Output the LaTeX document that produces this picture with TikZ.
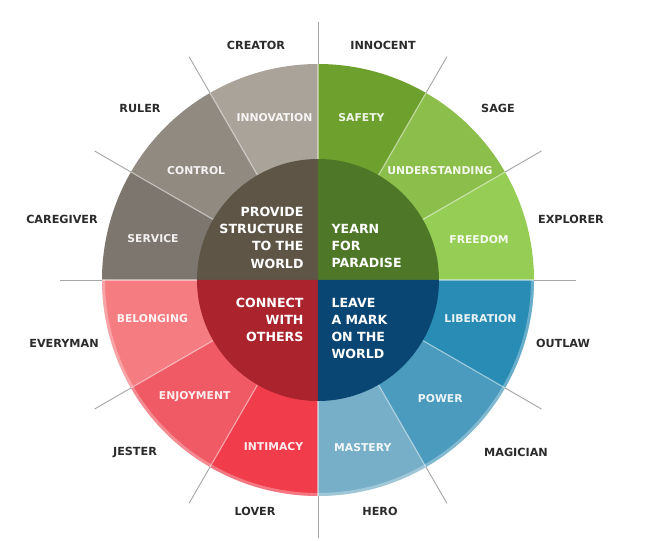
\documentclass[tikz,border=0pt]{standalone}
\usepackage{fontspec}
\setmainfont{DejaVu Sans}
\usepackage{xcolor}
\definecolor{InnoGrey}{HTML}{AAA39A}
\definecolor{CtrlGrey}{HTML}{918A81}
\definecolor{ServGrey}{HTML}{7C766E}
\definecolor{CoreGrey}{HTML}{5E5546}
\definecolor{SafeGreen}{HTML}{6EA02D}
\definecolor{UndGreen}{HTML}{8CBE4B}
\definecolor{FreeGreen}{HTML}{96CD55}
\definecolor{CoreGreen}{HTML}{4E7828}
\definecolor{BelRed}{HTML}{F57D82}
\definecolor{EnjRed}{HTML}{F05A64}
\definecolor{IntRed}{HTML}{F03C4B}
\definecolor{CoreRed}{HTML}{AA232D}
\definecolor{LibBlue}{HTML}{288CB4}
\definecolor{PowBlue}{HTML}{4B9BBE}
\definecolor{MastBlue}{HTML}{78AFC8}
\definecolor{CoreBlue}{HTML}{0A4673}
\definecolor{LabelDark}{HTML}{2B2B2B}
\usepackage{tikz}

\begin{document}
\begin{tikzpicture}[x=1pt,y=1pt,
  ring/.style={font=\fontsize{10.8}{12}\selectfont\bfseries,text=white,text opacity=.9},
  arch/.style={font=\fontsize{11.2}{13}\selectfont\bfseries,text=LabelDark},
  core/.style={font=\fontsize{12.6}{17.3}\selectfont\bfseries,text=white},
  spokein/.style={white,opacity=.45,line width=1.2pt},
  spokeout/.style={gray!70,line width=.9pt}
]
  \useasboundingbox (-318,-261) rectangle (336,280);

  % outer ring
  \fill[InnoGrey] (0,0) -- (90:216) arc[start angle=90,end angle=120,radius=216] -- cycle;
  \fill[CtrlGrey] (0,0) -- (120:216) arc[start angle=120,end angle=150,radius=216] -- cycle;
  \fill[ServGrey] (0,0) -- (150:216) arc[start angle=150,end angle=180,radius=216] -- cycle;
  \fill[SafeGreen] (0,0) -- (60:216) arc[start angle=60,end angle=90,radius=216] -- cycle;
  \fill[UndGreen] (0,0) -- (30:216) arc[start angle=30,end angle=60,radius=216] -- cycle;
  \fill[FreeGreen] (0,0) -- (0:216) arc[start angle=0,end angle=30,radius=216] -- cycle;
  \fill[BelRed] (0,0) -- (180:216) arc[start angle=180,end angle=210,radius=216] -- cycle;
  \fill[EnjRed] (0,0) -- (210:216) arc[start angle=210,end angle=240,radius=216] -- cycle;
  \fill[IntRed] (0,0) -- (240:216) arc[start angle=240,end angle=270,radius=216] -- cycle;
  \fill[MastBlue] (0,0) -- (270:216) arc[start angle=270,end angle=300,radius=216] -- cycle;
  \fill[PowBlue] (0,0) -- (300:216) arc[start angle=300,end angle=330,radius=216] -- cycle;
  \fill[LibBlue] (0,0) -- (330:216) arc[start angle=330,end angle=360,radius=216] -- cycle;
  \draw[white,opacity=.3,line width=3pt] (180:214.5) arc[start angle=180,end angle=360,radius=214.5];

  % spokes
  \draw[spokein] (0:121) -- (0:216);     \draw[spokeout] (0:216) -- (0:258);
  \draw[spokein] (30:121) -- (30:216);   \draw[spokeout] (30:216) -- (30:258);
  \draw[spokein] (60:121) -- (60:216);   \draw[spokeout] (60:216) -- (60:258);
  \draw[spokein] (90:121) -- (90:216);   \draw[spokeout] (90:216) -- (90:258);
  \draw[spokein] (120:121) -- (120:216); \draw[spokeout] (120:216) -- (120:258);
  \draw[spokein] (150:121) -- (150:216); \draw[spokeout] (150:216) -- (150:258);
  \draw[spokein] (180:121) -- (180:216); \draw[spokeout] (180:216) -- (180:258);
  \draw[spokein] (210:121) -- (210:216); \draw[spokeout] (210:216) -- (210:258);
  \draw[spokein] (240:121) -- (240:216); \draw[spokeout] (240:216) -- (240:258);
  \draw[spokein] (270:121) -- (270:216); \draw[spokeout] (270:216) -- (270:258);
  \draw[spokein] (300:121) -- (300:216); \draw[spokeout] (300:216) -- (300:258);
  \draw[spokein] (330:121) -- (330:216); \draw[spokeout] (330:216) -- (330:258);

  % inner circle
  \fill[CoreGrey] (0,0) -- (90:121) arc[start angle=90,end angle=180,radius=121] -- cycle;
  \fill[CoreGreen] (0,0) -- (0:121) arc[start angle=0,end angle=90,radius=121] -- cycle;
  \fill[CoreRed] (0,0) -- (180:121) arc[start angle=180,end angle=270,radius=121] -- cycle;
  \fill[CoreBlue] (0,0) -- (270:121) arc[start angle=270,end angle=360,radius=121] -- cycle;

  \node[core,align=right,anchor=east] (structure) at (-11,42.5) {PROVIDE\\STRUCTURE\\TO THE\\WORLD};
  \node[core,align=left,anchor=west] (paradise) at (10,34) {YEARN\\FOR\\PARADISE};
  \node[core,align=right,anchor=east] (others) at (-11,-40) {CONNECT\\WITH\\OTHERS};
  \node[core,align=left,anchor=west] (mark) at (10,-48.5) {LEAVE\\A MARK\\ON THE\\WORLD};

  % ring labels
  \node[ring] (innovation) at (105:168) {INNOVATION};
  \node[ring] (control) at (138:164) {CONTROL};
  \node[ring] (service) at (166:170) {SERVICE};
  \node[ring] (safety) at (75:168) {SAFETY};
  \node[ring] (understanding) at (42:164) {UNDERSTANDING};
  \node[ring] (freedom) at (14:166) {FREEDOM};
  \node[ring] (belonging) at (193:170) {BELONGING};
  \node[ring] (enjoyment) at (223.5:170) {ENJOYMENT};
  \node[ring] (intimacy) at (255:172) {INTIMACY};
  \node[ring] (liberation) at (-13.5:167) {LIBERATION};
  \node[ring] (power) at (-44:170) {POWER};
  \node[ring] (mastery) at (-75:173) {MASTERY};

  % archetypes
  \node[arch] (creator) at (-62,235) {CREATOR};
  \node[arch] (innocent) at (65,235) {INNOCENT};
  \node[arch] (ruler) at (-178,172) {RULER};
  \node[arch] (sage) at (180,172) {SAGE};
  \node[arch] (caregiver) at (-256,61) {CAREGIVER};
  \node[arch] (explorer) at (253,61) {EXPLORER};
  \node[arch] (everyman) at (-254,-63) {EVERYMAN};
  \node[arch] (outlaw) at (245,-63) {OUTLAW};
  \node[arch] (jester) at (-183,-172) {JESTER};
  \node[arch] (magician) at (198,-172) {MAGICIAN};
  \node[arch] (lover) at (-63,-231) {LOVER};
  \node[arch] (hero) at (62,-231) {HERO};
\end{tikzpicture}
\end{document}
